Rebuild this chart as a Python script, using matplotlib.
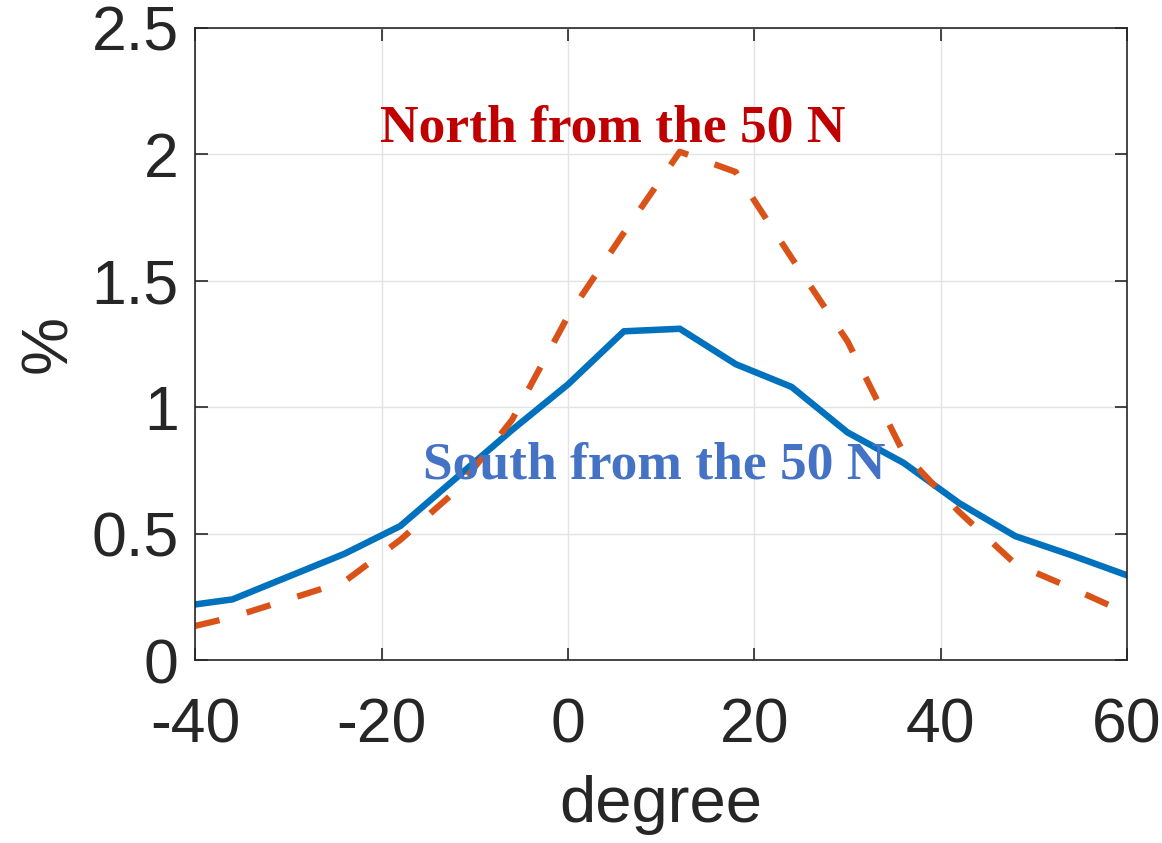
import matplotlib.pyplot as plt

degree = [-40, -36, -30, -24, -18, -12, -6, 0, 6, 12, 18, 24, 30, 36, 42, 48, 54, 60]
south = [0.22, 0.24, 0.33, 0.42, 0.53, 0.72, 0.91, 1.09, 1.30, 1.31, 1.17, 1.08, 0.90, 0.78, 0.62, 0.49, 0.415, 0.335]
north = [0.135, 0.17, 0.24, 0.31, 0.475, 0.67, 0.95, 1.36, 1.69, 2.01, 1.93, 1.59, 1.26, 0.82, 0.585, 0.38, 0.285, 0.185]

plt.rcParams['font.family'] = ['Liberation Sans', 'DejaVu Sans']
plt.rcParams['axes.unicode_minus'] = False

fig = plt.figure(figsize=(11.62, 8.43), dpi=100)
ax = fig.add_axes([0.168, 0.217, 0.802, 0.75])

ax.plot(degree, south, color='#0072BD', lw=4.7, solid_joinstyle='round')
ax.plot(degree, north, color='#D95319', lw=4.5, dashes=(4, 4.5))

ax.set_xlim(-40, 60)
ax.set_ylim(0, 2.5)
ax.set_xticks([-40, -20, 0, 20, 40, 60])
ax.set_yticks([0, 0.5, 1, 1.5, 2, 2.5])
ax.set_yticklabels(['0', '0.5', '1', '1.5', '2', '2.5'])
ax.grid(True, color='#e3e3e3', lw=1)
ax.tick_params(direction='in', top=True, right=True, length=9, width=1.2,
               labelsize=45, colors='#262626')
ax.tick_params(axis='x', pad=26)
ax.tick_params(axis='y', pad=12)
for s in ax.spines.values():
    s.set_color('#262626')
    s.set_linewidth(1.2)

ax.set_xlabel('degree', fontsize=47, color='#262626', labelpad=14)
ax.set_ylabel('%', fontsize=47, color='#262626', labelpad=9)

ax.text(4.8, 2.1, 'North from the 50 N', fontsize=38.5, fontweight='bold',
        family='Liberation Serif', color='#C00000', ha='center', va='center')
ax.text(9.3, 0.77, 'South from the 50 N', fontsize=38.5, fontweight='bold',
        family='Liberation Serif', color='#4472C4', ha='center', va='center')

fig.savefig('out.png', dpi=100)
